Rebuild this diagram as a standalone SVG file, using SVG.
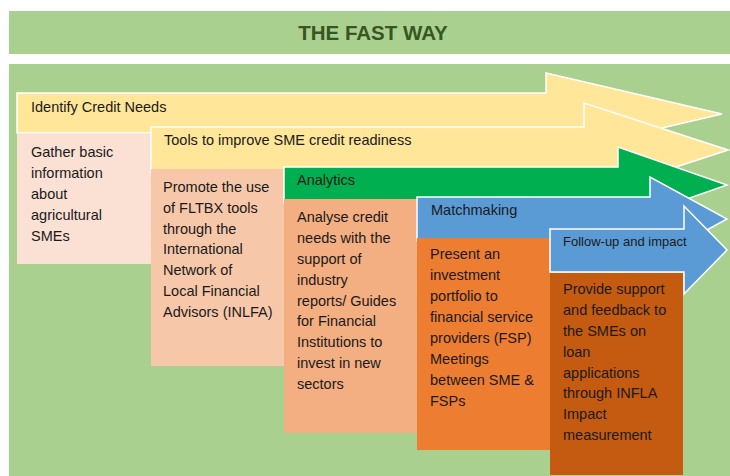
<svg xmlns="http://www.w3.org/2000/svg" width="730" height="476" viewBox="0 0 730 476">
<style>
  .bg { fill: #A9D08E; }
  .arrow { stroke: #FFFFFF; stroke-width: 1.5; stroke-linejoin: miter; }
  .yellow { fill: #FFE699; }
  .green { fill: #00B050; }
  .blue { fill: #5B9BD5; }
  .lbl { font-family: "Liberation Sans", Arial, sans-serif; font-size: 14.5px; fill: #1a1a1a; }
  .small { font-size: 13px; }
  .title { font-family: "Liberation Sans", Arial, sans-serif; font-size: 20.5px; font-weight: bold; fill: #375623; }
</style>
<rect x="0" y="0" width="730" height="476" fill="#FFFFFF"/>
<g id="title">
  <rect class="bg" x="9" y="11" width="721" height="43"/>
  <text class="title" x="373" y="40" text-anchor="middle">THE FAST WAY</text>
</g>
<rect class="bg" x="9" y="64" width="721" height="412"/>
<g id="connectors"></g>
<g id="step1">
  <polygon class="arrow yellow" points="17,93 546,93 546,73 722,114 546,155 546,133 17,133"/>
  <text class="lbl" x="31" y="112">Identify Credit Needs</text>
</g>
<g id="box1">
  <rect x="17" y="134" width="134" height="130" fill="#FBE0D4"/>
  <text class="lbl" x="31" y="157">Gather basic</text>
  <text class="lbl" x="31" y="178">information</text>
  <text class="lbl" x="31" y="199">about</text>
  <text class="lbl" x="31" y="220">agricultural</text>
  <text class="lbl" x="31" y="241">SMEs</text>
</g>
<g id="step2">
  <polygon class="arrow yellow" points="151,127 584,127 584,103 728,150 584,197 584,173 151,173"/>
  <text class="lbl" x="164" y="145">Tools to improve SME credit readiness</text>
</g>
<g id="box2">
  <rect x="151" y="169" width="133" height="197" fill="#F6C8A9"/>
  <text class="lbl" x="163" y="192">Promote the use</text>
  <text class="lbl" x="163" y="213">of FLTBX tools</text>
  <text class="lbl" x="163" y="234">through the</text>
  <text class="lbl" x="163" y="254">International</text>
  <text class="lbl" x="163" y="275">Network of</text>
  <text class="lbl" x="163" y="296">Local Financial</text>
  <text class="lbl" x="163" y="317">Advisors (INLFA)</text>
</g>
<g id="step3">
  <polygon class="arrow green" points="284,167 618,167 618,147 727,185 618,223 618,203 284,203"/>
  <text class="lbl" x="297" y="185">Analytics</text>
</g>
<g id="box3">
  <rect x="284" y="199" width="133" height="234" fill="#F3AE81"/>
  <text class="lbl" x="297" y="222">Analyse credit</text>
  <text class="lbl" x="297" y="243">needs with the</text>
  <text class="lbl" x="297" y="264">support of</text>
  <text class="lbl" x="297" y="285">industry</text>
  <text class="lbl" x="297" y="306">reports/ Guides</text>
  <text class="lbl" x="297" y="326">for Financial</text>
  <text class="lbl" x="297" y="347">Institutions to</text>
  <text class="lbl" x="297" y="368">invest in new</text>
  <text class="lbl" x="297" y="389">sectors</text>
</g>
<g id="step4">
  <polygon class="arrow blue" points="417,197 650,197 650,177 727,219 650,261 650,241 417,241"/>
  <text class="lbl" x="431" y="215">Matchmaking</text>
</g>
<g id="box4">
  <rect x="417" y="238" width="133" height="212" fill="#ED7D31"/>
  <text class="lbl" x="430" y="259">Present an</text>
  <text class="lbl" x="430" y="280">investment</text>
  <text class="lbl" x="430" y="301">portfolio to</text>
  <text class="lbl" x="430" y="322">financial service</text>
  <text class="lbl" x="430" y="343">providers (FSP)</text>
  <text class="lbl" x="430" y="364">Meetings</text>
  <text class="lbl" x="430" y="385">between SME &amp;</text>
  <text class="lbl" x="430" y="406">FSPs</text>
</g>
<g id="step5">
  <polygon class="arrow blue" points="550,229 684,229 684,206 727,250 684,294 684,272 550,272"/>
  <text class="lbl small" x="563" y="246">Follow-up and impact</text>
</g>
<g id="box5">
  <rect x="550" y="273" width="133" height="202" fill="#C55A11"/>
  <text class="lbl" x="563" y="294">Provide support</text>
  <text class="lbl" x="563" y="315">and feedback to</text>
  <text class="lbl" x="563" y="336">the SMEs on</text>
  <text class="lbl" x="563" y="357">loan</text>
  <text class="lbl" x="563" y="378">applications</text>
  <text class="lbl" x="563" y="398">through INFLA</text>
  <text class="lbl" x="563" y="419">Impact</text>
  <text class="lbl" x="563" y="440">measurement</text>
</g>
</svg>
